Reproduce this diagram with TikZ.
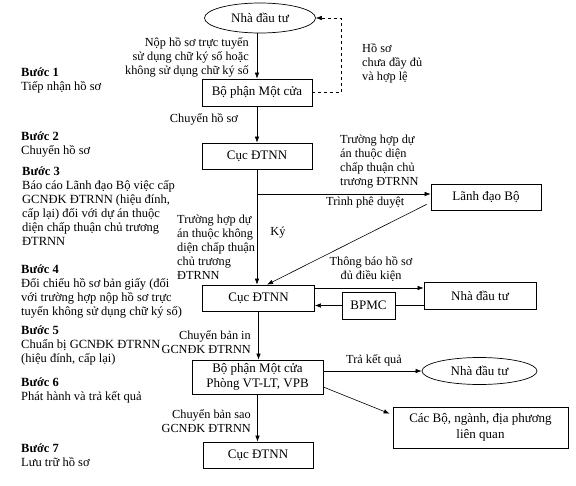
\documentclass[tikz,border=0pt]{standalone}
\usepackage{fontspec}
\setmainfont{Liberation Serif}
\usetikzlibrary{arrows.meta,shapes.geometric,calc}
\begin{document}
\begin{tikzpicture}[x=1pt,y=-1pt,
  box/.style={draw,line width=0.7pt,inner sep=2pt,font=\fontsize{13}{15}\selectfont,align=center},
  ell/.style={draw,ellipse,line width=0.7pt,inner sep=1pt,font=\fontsize{13}{15}\selectfont},
  ann/.style={font=\fontsize{12.3}{14}\selectfont,inner sep=0pt},
  stp/.style={font=\fontsize{12.5}{14}\selectfont,inner sep=0pt,align=left,anchor=north west},
  arr/.style={line width=0.6pt,-{Latex[length=6pt,width=4.5pt]}},
  ln/.style={line width=0.6pt}]
\useasboundingbox (0,0) rectangle (576,485);
% nodes
\node[ell,minimum width=111,minimum height=30] (nd1) at (260,18) {Nhà đầu tư};
\node[box,minimum width=110,minimum height=27] (bp1) at (257,92.5) {Bộ phận Một cửa};
\node[box,minimum width=110,minimum height=26] (c1) at (257,156) {Cục ĐTNN};
\node[box,minimum width=110,minimum height=26] (ld) at (486,197) {Lãnh đạo Bộ};
\node[box,minimum width=112,minimum height=26] (c2) at (258.5,298) {Cục ĐTNN};
\node[box,minimum width=112,minimum height=27] (nd2) at (480,295.5) {Nhà đầu tư};
\node[box,minimum width=53,minimum height=27] (bpmc) at (368.5,305.5) {BPMC};
\node[box,minimum width=131,minimum height=34,font=\fontsize{13}{15.5}\selectfont] (bp2) at (257.5,377) {Bộ phận Một cửa\\Phòng VT-LT, VPB};
\node[ell,minimum width=115,minimum height=27] (nd3) at (479.5,371) {Nhà đầu tư};
\node[box,minimum width=175,minimum height=41,font=\fontsize{13}{15.5}\selectfont] (cb) at (480.5,427.5) {Các Bộ, ngành, địa phương\\liên quan};
\node[box,minimum width=110,minimum height=26] (c3) at (258,455) {Cục ĐTNN};
% connectors
\draw[arr] (bp1.north |- nd1.south) -- (bp1.north);
\draw[arr,dashed,line width=0.5pt] (bp1.east) -- ++(29,0) |- (nd1.east);
\draw[arr] (bp1.south) -- (c1.north);
\draw[arr] (c1.south) -- (c1.south |- c2.north);
\draw[arr] ([yshift=3pt]c1.south |- ld.west) -- ([yshift=3pt]ld.west);
\draw[arr] ([xshift=-4pt,yshift=6pt]ld.south west) -- ([xshift=8.5pt]c2.north);
\draw[arr] ([yshift=10pt]c2.east) -- ([yshift=10pt]c2.east -| nd2.west);
\draw[ln] (nd2.west |- bpmc.east) -- (bpmc.east);
\draw[arr] (bpmc.west) -- (c2.east |- bpmc.west);
\draw[arr] (c2.south) -- (c2.south |- bp2.north);
\draw[arr] (bp2.east |- nd3.west) -- (nd3.west);
\draw[arr] ([yshift=-10pt]bp2.east) -- ([xshift=-3pt,yshift=-7pt]cb.north west);
\draw[arr] (bp2.south) -- (bp2.south |- c3.north);
% annotations
\node[ann,align=right,anchor=east] (l1) at (249,57) {Nộp hồ sơ trực tuyến\\sử dụng chữ ký số hoặc\\không sử dụng chữ ký số};
\node[ann,align=left,anchor=west] (l2) at (362,63) {Hồ sơ\\chưa đầy đủ\\và hợp lệ};
\node[ann] (l3) at (204,119) {Chuyển hồ sơ};
\node[ann,align=left,anchor=west] (l4) at (340,161.5) {Trường hợp dự\\án thuộc diện\\chấp thuận chủ\\trương ĐTRNN};
\node[ann,anchor=west] (l5) at (326,203) {Trình phê duyệt};
\node[ann,align=left,anchor=west] (l6) at (177,247) {Trường hợp dự\\án thuộc không\\diện chấp thuận\\chủ trương\\ĐTRNN};
\node[ann] (l7) at (278,233) {Ký};
\node[ann,align=center] (l8) at (371,269) {Thông báo hồ sơ\\đủ điều kiện};
\node[ann,align=right,anchor=east] (l9) at (251,342.5) {Chuyển bản in\\GCNĐK ĐTRNN};
\node[ann] (l10) at (374,360) {Trả kết quả};
\node[ann,align=right,anchor=east] (l11) at (251,421) {Chuyển bản sao\\GCNĐK ĐTRNN};
% steps
\node[stp] (s1) at (21,68) {\textbf{Bước 1}\\Tiếp nhận hồ sơ};
\node[stp] (s2) at (21,132) {\textbf{Bước 2}\\Chuyển hồ sơ};
\node[stp] (s3) at (22,167) {\textbf{Bước 3}\\Báo cáo Lãnh đạo Bộ việc cấp\\GCNĐK ĐTRNN (hiệu đính,\\cấp lại) đối với dự án thuộc\\diện chấp thuận chủ trương\\ĐTRNN};
\node[stp] (s4) at (21,265) {\textbf{Bước 4}\\Đối chiếu hồ sơ bản giấy (đối\\với trường hợp nộp hồ sơ trực\\tuyến không sử dụng chữ ký số)};
\node[stp] (s5) at (21,326) {\textbf{Bước 5}\\Chuẩn bị GCNĐK ĐTRNN\\(hiệu đính, cấp lại)};
\node[stp] (s6) at (21,378) {\textbf{Bước 6}\\Phát hành và trả kết quả};
\node[stp] (s7) at (21,444) {\textbf{Bước 7}\\Lưu trữ hồ sơ};
\end{tikzpicture}
\end{document}
